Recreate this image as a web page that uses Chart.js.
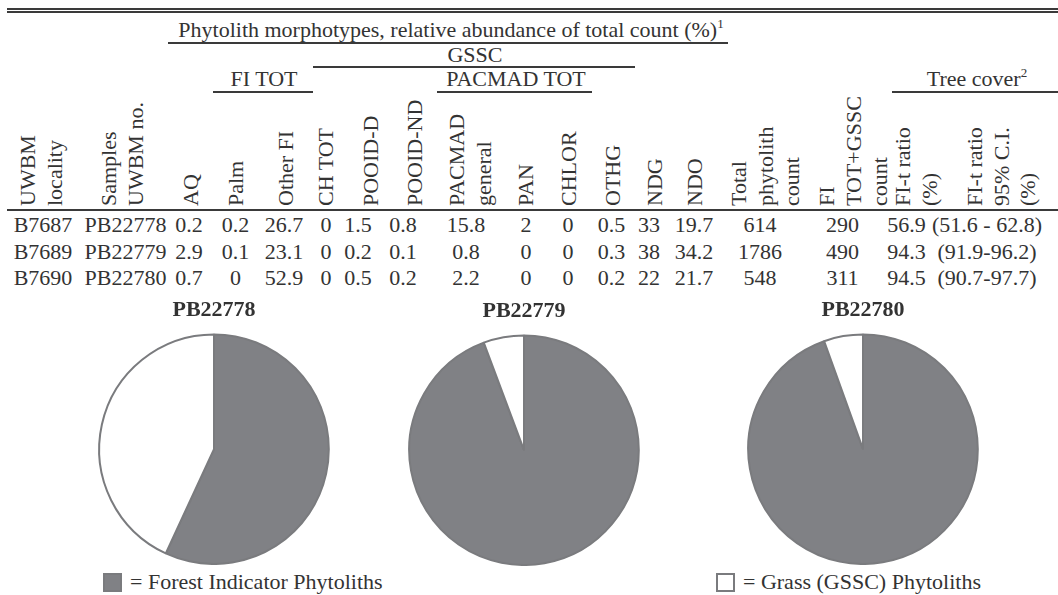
<!DOCTYPE html>
<html>
<head>
<meta charset="utf-8">
<script src="https://cdn.jsdelivr.net/npm/chart.js@4.4.1/dist/chart.umd.min.js"></script>
<style>
body { margin: 0; width: 1058px; height: 595px; background: #fff; position: relative; overflow: hidden;
       font-family: "Liberation Serif", "Times New Roman", serif; color: #333; }
.txt { position: absolute; white-space: nowrap; font-size: 22px; line-height: 1; transform: translate(-50%, -50%); }
.hdr { position: absolute; white-space: nowrap; font-size: 22px; line-height: 26.5px; transform-origin: 0 0; transform: rotate(-90deg); }
.rule { position: absolute; height: 2px; background: #3a3a3a; }
sup { font-size: 13px; vertical-align: 9px; line-height: 0; }
canvas { position: absolute; }
.key { position: absolute; width: 15px; height: 15px; border: 2px solid #7a7b7e; }
</style>
</head>
<body>
<canvas id="pie1" width="260" height="268" style="left:84px; top:297px;"></canvas>
<canvas id="pie2" width="260" height="268" style="left:394px; top:298px;"></canvas>
<canvas id="pie3" width="260" height="268" style="left:733px; top:297px;"></canvas>

<div class="key" style="left:103px; top:573px; background:#808185;"></div>
<div class="txt" style="left:130px; top:582px; transform:translate(0,-50%);">= Forest Indicator Phytoliths</div>
<div class="key" style="left:716px; top:573px; background:#fff;"></div>
<div class="txt" style="left:743px; top:582px; transform:translate(0,-50%);">= Grass (GSSC) Phytoliths</div>

<script>
// table columns (one array per column, rows = samples)
const locality = ["B7687", "B7689", "B7690"];
const samples = ["PB22778", "PB22779", "PB22780"];
const aq = [0.2, 2.9, 0.7];
const palm = [0.2, 0.1, 0];
const otherFI = [26.7, 23.1, 52.9];
const chTot = [0, 0, 0];
const pooidD = [1.5, 0.2, 0.5];
const pooidND = [0.8, 0.1, 0.2];
const pacmadGeneral = [15.8, 0.8, 2.2];
const pan = [2, 0, 0];
const chlor = [0, 0, 0];
const othg = [0.5, 0.3, 0.2];
const ndg = [33, 38, 22];
const ndo = [19.7, 34.2, 21.7];
const totalCount = [614, 1786, 548];
const fiGsscCount = [290, 490, 311];
const fiRatio = [56.9, 94.3, 94.5];
const fiRatioCI = ["(51.6 - 62.8)", "(91.9-96.2)", "(90.7-97.7)"];

// pie values (% forest indicator vs grass)
const pieLabels = ["Forest Indicator Phytoliths", "Grass (GSSC) Phytoliths"];
const forestPct = [56.9, 94.3, 94.5];
const grassPct = [43.1, 5.7, 5.5];

const headerLines = [
    ["UWBM", "locality"], ["Samples", "UWBM no."], ["AQ"], ["Palm"], ["Other FI"], ["CH TOT"],
    ["POOID-D"], ["POOID-ND"], ["PACMAD", "general"], ["PAN"], ["CHLOR"], ["OTHG"], ["NDG"], ["NDO"],
    ["Total", "phytolith", "count"], ["FI", "TOT+GSSC", "count"], ["FI-t ratio", "(%)"],
    ["FI-t ratio", "95% C.I.", "(%)"]
];

const tableColumns = [locality, samples, aq, palm, otherFI, chTot, pooidD, pooidND, pacmadGeneral,
    pan, chlor, othg, ndg, ndo, totalCount, fiGsscCount, fiRatio, fiRatioCI];

// layout
const headerX = [28, 109, 191, 236, 286, 326, 371, 415, 457, 526, 569, 613, 655, 695, 739, 827, 903, 975];
const colX = [43, 125.5, 189, 235.5, 284, 326, 358, 403, 466, 526, 568, 611.5, 649, 694, 760, 842.5, 906.5, 987];
const rowY = [225, 251.5, 278];

function addText(html, x, y, extraClass) {
    const d = document.createElement('div');
    d.className = 'txt' + (extraClass ? ' ' + extraClass : '');
    d.innerHTML = html;
    d.style.left = x + 'px';
    d.style.top = y + 'px';
    document.body.appendChild(d);
}

function addRule(x1, x2, y) {
    const d = document.createElement('div');
    d.className = 'rule';
    d.style.left = x1 + 'px';
    d.style.width = (x2 - x1) + 'px';
    d.style.top = (y - 1) + 'px';
    document.body.appendChild(d);
}

// top double rule and header rule
addRule(7, 1058, 8.5);
addRule(7, 1058, 12);
addRule(7, 1058, 210);

// group headings
addText('Phytolith morphotypes, relative abundance of total count (%)<sup>1</sup>', 451, 30);
addRule(168, 728, 43);
addText('GSSC', 475, 55);
addRule(313, 635, 67);
addText('FI TOT', 264, 79);
addRule(213, 313, 92);
addText('PACMAD TOT', 516, 79);
addRule(437, 592, 92);
addText('Tree cover<sup>2</sup>', 977, 79);
addRule(892, 1058, 92);

// rotated column headers
headerLines.forEach((lines, i) => {
    const d = document.createElement('div');
    d.className = 'hdr';
    lines.forEach((line, j) => {
        if (j > 0) d.appendChild(document.createElement('br'));
        d.appendChild(document.createTextNode(line));
    });
    d.style.left = (headerX[i] - 13.25) + 'px';
    d.style.top = '206px';
    document.body.appendChild(d);
});

// table body
tableColumns.forEach((col, c) => {
    col.forEach((v, r) => addText(String(v), colX[c], rowY[r]));
});

// pies
['pie1', 'pie2', 'pie3'].forEach((id, i) => {
    new Chart(document.getElementById(id), {
        type: 'pie',
        data: {
            labels: pieLabels,
            datasets: [{
                data: [forestPct[i], grassPct[i]],
                backgroundColor: ['#808185', '#ffffff'],
                borderColor: '#7a7b7e',
                borderWidth: 2
            }]
        },
        options: {
            responsive: false,
            animation: false,
            events: [],
            layout: { padding: 0 },
            plugins: {
                legend: { display: false },
                tooltip: { enabled: false },
                title: {
                    display: true,
                    text: samples[i],
                    color: '#333',
                    font: { family: 'Liberation Serif', size: 22, weight: 'bold' },
                    padding: { top: 0, bottom: 10 }
                }
            }
        }
    });
});
</script>
</body>
</html>
